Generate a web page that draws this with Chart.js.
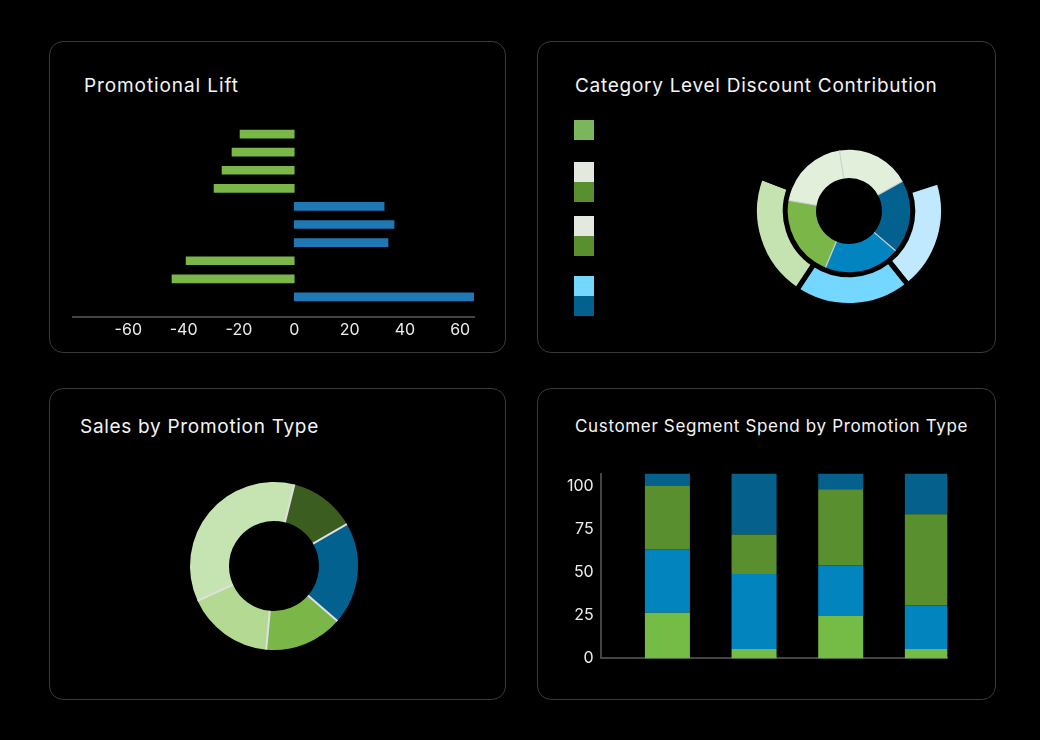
<!DOCTYPE html>
<html><head><meta charset="utf-8">
<script src="https://cdn.jsdelivr.net/npm/chart.js@4.4.1/dist/chart.umd.min.js"></script>
<style>
html,body{margin:0;padding:0;background:#000;}
#root{position:relative;width:1040px;height:740px;background:#000;overflow:hidden;font-family:Inter,'Noto Sans',sans-serif;}
.panel{position:absolute;border:1.5px solid #3a3a3a;border-radius:14px;box-sizing:border-box;}
.title{position:absolute;color:#f4f4f4;line-height:1;white-space:nowrap;font-weight:400;}
canvas{position:absolute;}
.sw{position:absolute;width:20px;height:20px;}
</style></head><body>
<div id="root">
  <div class="panel" style="left:49px;top:41px;width:457px;height:312px"></div>
  <div class="panel" style="left:537px;top:41px;width:459px;height:312px"></div>
  <div class="panel" style="left:49px;top:388px;width:457px;height:312px"></div>
  <div class="panel" style="left:537px;top:388px;width:459px;height:312px"></div>

  <div class="title" style="left:84px;top:76px;font-size:19px;letter-spacing:0.9px">Promotional Lift</div>
  <div class="title" style="left:575px;top:76px;font-size:19px;letter-spacing:0.72px">Category Level Discount Contribution</div>
  <div class="title" style="left:80px;top:417px;font-size:19px;letter-spacing:0.7px">Sales by Promotion Type</div>
  <div class="title" style="left:575px;top:418px;font-size:17px;letter-spacing:0.65px">Customer Segment Spend by Promotion Type</div>

  <div class="sw" style="left:574px;top:120px;background:#7bb65c"></div>
  <div class="sw" style="left:574px;top:162px;background:#e4e9e0"></div>
  <div class="sw" style="left:574px;top:182px;background:#5a8f2f"></div>
  <div class="sw" style="left:574px;top:216px;background:#e4e9e0"></div>
  <div class="sw" style="left:574px;top:236px;background:#5a8f2f"></div>
  <div class="sw" style="left:574px;top:276px;background:#73d7fe"></div>
  <div class="sw" style="left:574px;top:296px;background:#04608c"></div>

  <canvas id="c1" width="430" height="240" style="left:60px;top:110px;width:430px;height:240px"></canvas>
  <canvas id="c2" width="200" height="200" style="left:749px;top:111px;width:200px;height:200px"></canvas>
  <canvas id="c3" width="200" height="200" style="left:174px;top:466px;width:200px;height:200px"></canvas>
  <canvas id="c4" width="420" height="218" style="left:545px;top:457px;width:420px;height:218px"></canvas>
</div>
<script>
// ---------- Data ----------
const liftCategories = ['Promo 1','Promo 2','Promo 3','Promo 4','Promo 5','Promo 6','Promo 7','Promo 8','Promo 9','Promo 10'];
const liftValues = [-19.6, -22.5, -26.1, -29.0, 32.5, 36.1, 33.9, -39.1, -44.2, 65];
const liftTicks = [-60, -40, -20, 0, 20, 40, 60];

const discountCategories = ['Other A', 'Electronics', 'Home', 'Grocery', 'Other B'];
const discountShare = [19.4, 19.3, 20.0, 21.5, 19.7];

const promoTypes = ['Bundle', 'Flash Sale', 'Coupon', 'Loyalty', 'Percent Off'];
const promoSales = [12.8, 19.7, 15.1, 16.7, 35.7];

const segmentTypes = ['BOGO', 'Clearance', 'Coupon', 'Seasonal'];
const segNew = [26.4, 5.5, 24.5, 5.5];
const segRegular = [36.8, 43.3, 29.3, 25.2];
const segLoyal = [36.9, 23.0, 44.2, 52.7];
const segVip = [6.9, 35.2, 9.0, 23.6];
const segmentTicks = [0, 25, 50, 75, 100];

// ---------- Common ----------
Chart.defaults.animation = false;
Chart.defaults.font.family = "Inter, 'Liberation Sans', Arial, sans-serif";
Chart.defaults.color = '#e8e8e8';

const separatorPlugin = {
  id: 'separators',
  afterDatasetsDraw(chart, args, opts) {
    const ctx = chart.ctx;
    (opts.sets || []).forEach(cfg => {
      const meta = chart.getDatasetMeta(cfg.index);
      ctx.save();
      ctx.strokeStyle = cfg.color;
      ctx.lineWidth = cfg.width;
      meta.data.forEach(arc => {
        const p = arc.getProps(['x','y','startAngle','innerRadius','outerRadius'], true);
        const r0 = p.innerRadius, r1 = p.outerRadius - (cfg.trim || 0);
        ctx.beginPath();
        ctx.moveTo(p.x + Math.cos(p.startAngle) * r0, p.y + Math.sin(p.startAngle) * r0);
        ctx.lineTo(p.x + Math.cos(p.startAngle) * r1, p.y + Math.sin(p.startAngle) * r1);
        ctx.stroke();
      });
      ctx.restore();
    });
  }
};

// ---------- Chart 1: Promotional Lift ----------
new Chart(document.getElementById('c1'), {
  type: 'bar',
  data: {
    labels: liftCategories,
    datasets: [{
      label: 'Lift',
      data: liftValues.map((v, i) => ({ x: v, y: i })),
      backgroundColor: liftValues.map(v => v < 0 ? '#7ab648' : '#1f77b4'),
      barThickness: 8
    }]
  },
  options: {
    indexAxis: 'y',
    responsive: false,
    layout: { padding: { left: 13, right: 16, top: 15, bottom: 6 } },
    plugins: { legend: { display: false }, tooltip: { enabled: false } },
    scales: {
      y: { type: 'linear', reverse: true, min: -0.5, max: 10.1, offset: false, grace: 0, display: false },
      x: {
        min: -80, max: 65,
        afterBuildTicks: s => { s.ticks = liftTicks.map(v => ({ value: v })); },
        grid: { display: false, drawTicks: false },
        border: { display: true, color: '#444', width: 2 },
        ticks: { color: '#ececec', font: { size: 16 }, padding: 4 }
      }
    }
  }
});

// ---------- Chart 2: Category Level Discount Contribution ----------
new Chart(document.getElementById('c2'), {
  type: 'doughnut',
  data: {
    labels: discountCategories,
    datasets: [
      {
        label: 'Outer',
        data: discountShare,
        backgroundColor: ['rgba(0,0,0,0)', '#c0e8ff', '#73d7ff', '#c5e3b0', 'rgba(0,0,0,0)'],
        borderColor: '#000',
        borderWidth: 5,
        rotation: 2
      },
      {
        label: 'Inner',
        data: discountShare,
        backgroundColor: ['#e2efda', '#02618f', '#0284c0', '#7ab648', '#e2efda'],
        borderWidth: 0,
        rotation: -9
      }
    ]
  },
  options: {
    responsive: false,
    radius: 94.5,
    cutout: '34.9%',
    plugins: {
      legend: { display: false }, tooltip: { enabled: false },
      separators: { sets: [{ index: 1, color: '#d4d4d4', width: 1.2, trim: 2.5 }] }
    }
  },
  plugins: [separatorPlugin]
});

// ---------- Chart 3: Sales by Promotion Type ----------
new Chart(document.getElementById('c3'), {
  type: 'doughnut',
  data: {
    labels: promoTypes,
    datasets: [{
      label: 'Sales',
      data: promoSales,
      backgroundColor: ['#3b5e20', '#02618f', '#7ab648', '#b3d992', '#c6e3b2'],
      borderWidth: 0,
      rotation: 14
    }]
  },
  options: {
    responsive: false,
    radius: 84,
    cutout: '53.6%',
    plugins: {
      legend: { display: false }, tooltip: { enabled: false },
      separators: { sets: [{ index: 0, color: '#e0e0e0', width: 2 }] }
    }
  },
  plugins: [separatorPlugin]
});

// ---------- Chart 4: Customer Segment Spend ----------
const segCommon = { stack: 'spend', barPercentage: 0.962, categoryPercentage: 1.08 };
new Chart(document.getElementById('c4'), {
  type: 'bar',
  data: {
    labels: segmentTypes,
    datasets: [
      { label: '', data: [], stack: 'gap', barPercentage: 0.962, categoryPercentage: 1.08 },
      Object.assign({ label: 'New', data: segNew, backgroundColor: '#74bc45' }, segCommon),
      Object.assign({ label: 'Regular', data: segRegular, backgroundColor: '#0284bf' }, segCommon),
      Object.assign({ label: 'Loyal', data: segLoyal, backgroundColor: '#5a8f2f' }, segCommon),
      Object.assign({ label: 'VIP', data: segVip, backgroundColor: '#05608c' }, segCommon)
    ]
  },
  options: {
    responsive: false,
    layout: { padding: { left: 0, right: 17.7, top: 10, bottom: 16 } },
    plugins: { legend: { display: false }, tooltip: { enabled: false } },
    scales: {
      x: {
        grid: { display: false, drawTicks: false },
        ticks: { display: false },
        border: { display: true, color: '#444', width: 2 }
      },
      y: {
        stacked: true,
        min: 0, max: 107,
        afterBuildTicks: s => { s.ticks = segmentTicks.map(v => ({ value: v })); },
        afterFit: s => { s.width = 55.7; },
        grid: { display: false, drawTicks: false },
        border: { display: true, color: '#444', width: 2 },
        ticks: { color: '#ececec', font: { size: 16 }, padding: 7 }
      }
    }
  }
});
</script>
</body></html>
